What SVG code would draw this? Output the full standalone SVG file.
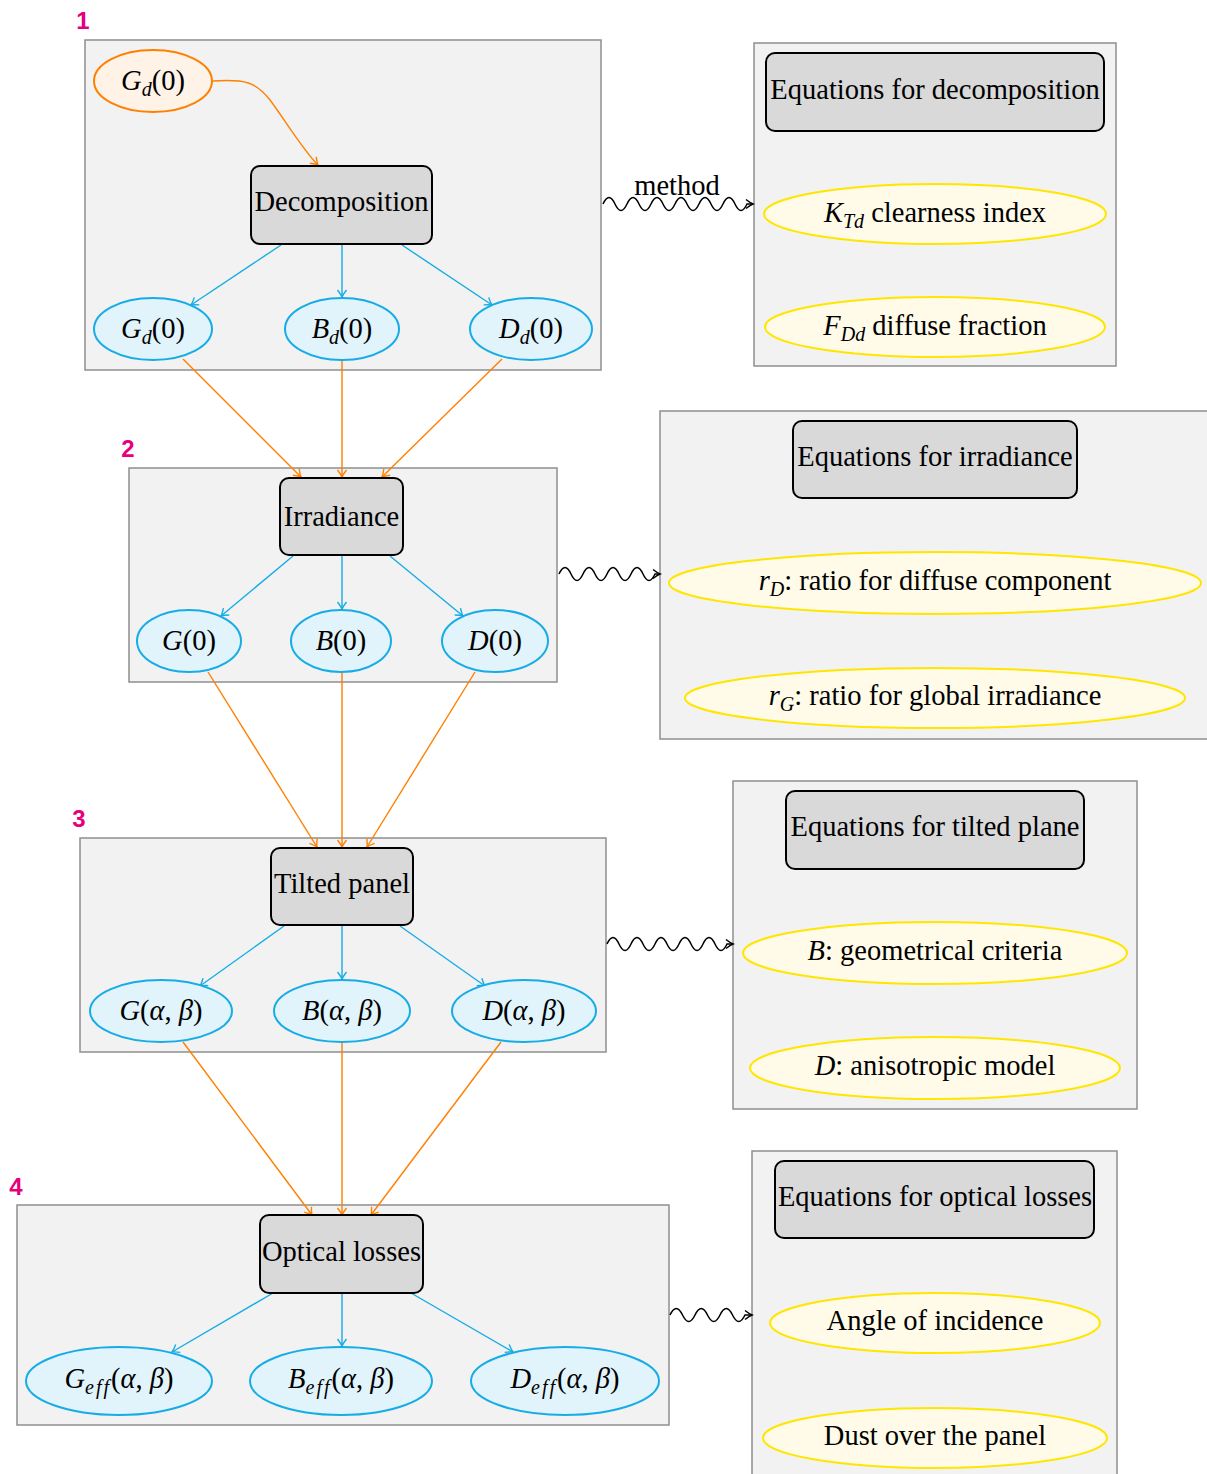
<svg xmlns="http://www.w3.org/2000/svg" width="1207" height="1474" viewBox="0 0 1207 1474">
<style>
.blk{fill:#f2f2f2;stroke:#8f8f8f;stroke-width:1.5}
.hdr{fill:#d9d9d9;stroke:#000;stroke-width:2}
.be{fill:#e1f3fb;stroke:#16ace6;stroke-width:2}
.oe{fill:#fff2e6;stroke:#ff8000;stroke-width:2}
.ye{fill:#fffbe8;stroke:#ffe600;stroke-width:2}
text{font-family:"Liberation Serif","Times New Roman",serif;font-size:28.5px;fill:#000;text-anchor:middle}
.num{font-family:"Liberation Sans",Arial,sans-serif;font-weight:bold;font-size:24px;fill:#e6007e}
.i{font-style:italic}
.s{font-size:20px;font-style:italic}
.oa{fill:none;stroke:#ff8000;stroke-width:1.4;marker-end:url(#ao)}
.ca{fill:none;stroke:#16ace6;stroke-width:1.4;marker-end:url(#ac)}
.wa{fill:none;stroke:#000;stroke-width:1.5;marker-end:url(#ak)}
</style>
<defs>
<marker id="ao" markerUnits="userSpaceOnUse" markerWidth="12" markerHeight="12" refX="0" refY="0" orient="auto" overflow="visible"><path d="M-7,-4.5 Q-2.5,-1 0,0 Q-2.5,1 -7,4.5" fill="none" stroke="#ff8000" stroke-width="1.4"/></marker>
<marker id="ac" markerUnits="userSpaceOnUse" markerWidth="12" markerHeight="12" refX="0" refY="0" orient="auto" overflow="visible"><path d="M-7,-4.5 Q-2.5,-1 0,0 Q-2.5,1 -7,4.5" fill="none" stroke="#16ace6" stroke-width="1.4"/></marker>
<marker id="ak" markerUnits="userSpaceOnUse" markerWidth="12" markerHeight="12" refX="0" refY="0" orient="auto" overflow="visible"><path d="M-7,-4.5 Q-2.5,-1 0,0 Q-2.5,1 -7,4.5" fill="none" stroke="#000" stroke-width="1.5"/></marker>
</defs>

<g id="block1">
<rect class="blk" x="85" y="40" width="516" height="330"/>
<text class="num" x="83" y="29">1</text>
</g>
<g id="block2">
<rect class="blk" x="129" y="468" width="428" height="214"/>
<text class="num" x="128" y="457">2</text>
</g>
<g id="block3">
<rect class="blk" x="80" y="838" width="526" height="214"/>
<text class="num" x="79" y="827">3</text>
</g>
<g id="block4">
<rect class="blk" x="17" y="1205" width="652" height="220"/>
<text class="num" x="16" y="1195">4</text>
</g>
<g id="eqbox1"><rect class="blk" x="754" y="43" width="362" height="323"/></g>
<g id="eqbox2"><rect class="blk" x="660" y="411" width="560" height="328"/></g>
<g id="eqbox3"><rect class="blk" x="733" y="781" width="404" height="328"/></g>
<g id="eqbox4"><rect class="blk" x="752" y="1151" width="365" height="340"/></g>

<g id="connectors">
<path class="oa" d="M213,81 C245,79 256,82 270,100 C285,120 303,150 318,165"/>
<path class="ca" d="M281,245 L191,305"/>
<path class="ca" d="M342,245 L342,297"/>
<path class="ca" d="M402,245 L492,305"/>
<path class="oa" d="M183,359 L301,477"/>
<path class="oa" d="M342,361 L342,477"/>
<path class="oa" d="M502,359 L382,477"/>
<path class="ca" d="M293,556 L221,616"/>
<path class="ca" d="M342,556 L342,609"/>
<path class="ca" d="M390,556 L463,616"/>
<path class="oa" d="M208,672 L317,847"/>
<path class="oa" d="M342,673 L342,847"/>
<path class="oa" d="M475,672 L367,847"/>
<path class="ca" d="M284,926 L200,986"/>
<path class="ca" d="M342,926 L342,979"/>
<path class="ca" d="M400,926 L485,986"/>
<path class="oa" d="M183,1042 L312,1215"/>
<path class="oa" d="M342,1043 L342,1215"/>
<path class="oa" d="M501,1042 L371,1215"/>
<path class="ca" d="M273,1293 L172,1352"/>
<path class="ca" d="M342,1293 L342,1346"/>
<path class="ca" d="M411,1293 L513,1352"/>
<path class="wa" d="M603,204 Q609,191 615,204 T627,204 T639,204 T651,204 T663,204 T675,204 T687,204 T699,204 T711,204 T723,204 T735,204 T747,204 L753,204"/>
<text x="677" y="195">method</text>
<path class="wa" d="M559,574 Q565,561 571,574 T583,574 T595,574 T607,574 T619,574 T631,574 T643,574 T655,574 L660,574"/>
<path class="wa" d="M607,944 Q613,931 619,944 T631,944 T643,944 T655,944 T667,944 T679,944 T691,944 T703,944 T715,944 T727,944 L733,944"/>
<path class="wa" d="M670,1315 Q676.25,1302 682.5,1315 T695,1315 T707.5,1315 T720,1315 T732.5,1315 T745,1315 L752,1315"/>
</g>

<g id="n-gd0-in"><ellipse class="oe" cx="153" cy="81" rx="59" ry="31"/><text x="153" y="90"><tspan class="i">G</tspan><tspan class="s" dy="6">d</tspan><tspan dy="-6">(0)</tspan></text></g>
<g id="n-decomp"><rect class="hdr" x="251" y="166" width="181" height="78" rx="9"/><text x="341.5" y="211">Decomposition</text></g>
<g id="n-gd0"><ellipse class="be" cx="153" cy="329" rx="59" ry="31"/><text x="153" y="338"><tspan class="i">G</tspan><tspan class="s" dy="6">d</tspan><tspan dy="-6">(0)</tspan></text></g>
<g id="n-bd0"><ellipse class="be" cx="342" cy="329" rx="57" ry="31"/><text x="342" y="338"><tspan class="i">B</tspan><tspan class="s" dy="6">d</tspan><tspan dy="-6">(0)</tspan></text></g>
<g id="n-dd0"><ellipse class="be" cx="531" cy="329" rx="61" ry="31"/><text x="531" y="338"><tspan class="i">D</tspan><tspan class="s" dy="6">d</tspan><tspan dy="-6">(0)</tspan></text></g>

<g id="n-eqdecomp"><rect class="hdr" x="766" y="53" width="338" height="78" rx="9"/><text x="935" y="99">Equations for decomposition</text></g>
<g id="n-ktd"><ellipse class="ye" cx="935" cy="214" rx="171" ry="30"/><text x="935" y="222"><tspan class="i">K</tspan><tspan class="s" dy="6">Td</tspan><tspan dy="-6"> clearness index</tspan></text></g>
<g id="n-fdd"><ellipse class="ye" cx="935" cy="327" rx="170" ry="30"/><text x="935" y="335"><tspan class="i">F</tspan><tspan class="s" dy="6">Dd</tspan><tspan dy="-6"> diffuse fraction</tspan></text></g>

<g id="n-irr"><rect class="hdr" x="280" y="478" width="123" height="77" rx="9"/><text x="341.5" y="526">Irradiance</text></g>
<g id="n-g0"><ellipse class="be" cx="189" cy="641" rx="52" ry="31"/><text x="189" y="650"><tspan class="i">G</tspan>(0)</text></g>
<g id="n-b0"><ellipse class="be" cx="341" cy="641" rx="50" ry="31"/><text x="341" y="650"><tspan class="i">B</tspan>(0)</text></g>
<g id="n-d0"><ellipse class="be" cx="495" cy="641" rx="53" ry="31"/><text x="495" y="650"><tspan class="i">D</tspan>(0)</text></g>

<g id="n-eqirr"><rect class="hdr" x="793" y="421" width="284" height="77" rx="9"/><text x="935" y="466">Equations for irradiance</text></g>
<g id="n-rd"><ellipse class="ye" cx="935" cy="583" rx="266" ry="31"/><text x="935" y="590"><tspan class="i">r</tspan><tspan class="s" dy="6">D</tspan><tspan dy="-6">: ratio for diffuse component</tspan></text></g>
<g id="n-rg"><ellipse class="ye" cx="935" cy="698" rx="250" ry="30"/><text x="935" y="705"><tspan class="i">r</tspan><tspan class="s" dy="6">G</tspan><tspan dy="-6">: ratio for global irradiance</tspan></text></g>

<g id="n-tilt"><rect class="hdr" x="271" y="848" width="142" height="77" rx="9"/><text x="342" y="893">Tilted panel</text></g>
<g id="n-gab"><ellipse class="be" cx="161" cy="1011" rx="71" ry="31"/><text x="161" y="1020"><tspan class="i">G</tspan>(<tspan class="i">α</tspan>, <tspan class="i">β</tspan>)</text></g>
<g id="n-bab"><ellipse class="be" cx="342" cy="1011" rx="68" ry="31"/><text x="342" y="1020"><tspan class="i">B</tspan>(<tspan class="i">α</tspan>, <tspan class="i">β</tspan>)</text></g>
<g id="n-dab"><ellipse class="be" cx="524" cy="1011" rx="72" ry="31"/><text x="524" y="1020"><tspan class="i">D</tspan>(<tspan class="i">α</tspan>, <tspan class="i">β</tspan>)</text></g>

<g id="n-eqtilt"><rect class="hdr" x="786" y="791" width="298" height="78" rx="9"/><text x="935" y="836">Equations for tilted plane</text></g>
<g id="n-geo"><ellipse class="ye" cx="935" cy="953" rx="192" ry="31"/><text x="935" y="960"><tspan class="i">B</tspan>: geometrical criteria</text></g>
<g id="n-aniso"><ellipse class="ye" cx="935" cy="1068" rx="185" ry="31"/><text x="935" y="1075"><tspan class="i">D</tspan>: anisotropic model</text></g>

<g id="n-opt"><rect class="hdr" x="260" y="1215" width="163" height="78" rx="9"/><text x="341.5" y="1261">Optical losses</text></g>
<g id="n-geff"><ellipse class="be" cx="119" cy="1381" rx="93" ry="34"/><text x="119" y="1388"><tspan class="i">G</tspan><tspan class="s" dy="6" letter-spacing="2">eff</tspan><tspan dy="-6">(</tspan><tspan class="i">α</tspan>, <tspan class="i">β</tspan>)</text></g>
<g id="n-beff"><ellipse class="be" cx="341" cy="1381" rx="91" ry="34"/><text x="341" y="1388"><tspan class="i">B</tspan><tspan class="s" dy="6" letter-spacing="2">eff</tspan><tspan dy="-6">(</tspan><tspan class="i">α</tspan>, <tspan class="i">β</tspan>)</text></g>
<g id="n-deff"><ellipse class="be" cx="565" cy="1381" rx="94" ry="34"/><text x="565" y="1388"><tspan class="i">D</tspan><tspan class="s" dy="6" letter-spacing="2">eff</tspan><tspan dy="-6">(</tspan><tspan class="i">α</tspan>, <tspan class="i">β</tspan>)</text></g>

<g id="n-eqopt"><rect class="hdr" x="775" y="1161" width="319" height="77" rx="9"/><text x="935" y="1206">Equations for optical losses</text></g>
<g id="n-aoi"><ellipse class="ye" cx="935" cy="1323" rx="165" ry="30"/><text x="935" y="1330">Angle of incidence</text></g>
<g id="n-dust"><ellipse class="ye" cx="935" cy="1438" rx="172" ry="30"/><text x="935" y="1445">Dust over the panel</text></g>
</svg>
